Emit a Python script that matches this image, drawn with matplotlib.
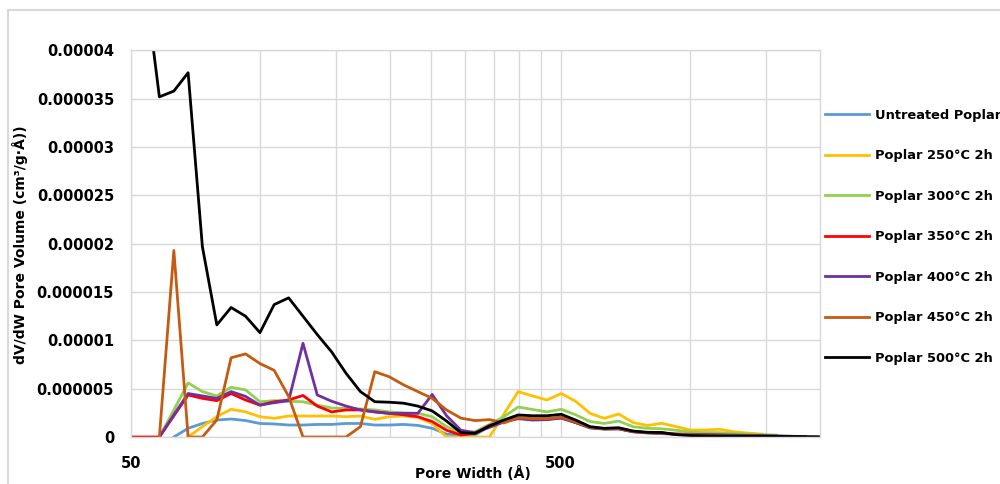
import numpy as np
import matplotlib
matplotlib.use("Agg")
import matplotlib.pyplot as plt
from matplotlib.ticker import FixedLocator, NullFormatter
from matplotlib.lines import Line2D

# pore widths (Å)
width = [50.0, 54.0, 58.3, 63.0, 68.0, 73.4, 79.3, 85.6, 92.5, 99.9,
         107.8, 116.5, 125.8, 135.8, 146.7, 158.4, 171.1, 184.8, 199.5, 215.5,
         232.7, 251.3, 271.4, 293.1, 316.2, 341.5, 368.8, 398.3, 430.1, 464.5,
         501.6, 541.7, 585.0, 631.7, 682.2, 736.7, 795.6, 859.2, 927.8, 1001.9,
         1082.0, 1168.4, 1261.8, 1362.6, 1471.5, 1589.1, 1716.1, 1853.2, 2000.0]

nan = np.nan
# dV/dW in units of 1e-6 cm3/(g·Å)
untreated = [nan, nan, nan, 0, 0.9, 1.4, 1.76, 1.86, 1.7, 1.4,
             1.35, 1.24, 1.24, 1.3, 1.3, 1.4, 1.4, 1.24, 1.24, 1.3,
             1.2, 0.9, 0.3, 0.2, 0.2, 1.1, 1.6, 1.95, 1.85, 1.85,
             2.0, 1.5, 0.95, 0.8, 0.85, 0.55, 0.4, 0.35, 0.25, 0.2,
             0.15, 0.15, 0.1, 0.1, 0.08, 0.06, 0.05, 0.03, nan]
p250 = [nan, nan, nan, nan, 0, 1.07, 2.1, 2.87, 2.6, 2.1,
        1.93, 2.17, 2.17, 2.17, 2.17, 2.1, 2.17, 1.83, 2.1, 2.17,
        2.03, 1.4, 0, 0, 0, 0, 2.35, 4.7, 4.25, 3.83,
        4.5, 3.7, 2.45, 1.93, 2.38, 1.5, 1.19, 1.42, 1.07, 0.72,
        0.72, 0.8, 0.55, 0.4, 0.3, nan, nan, nan, nan]
p300 = [nan, nan, 0, 2.8, 5.6, 4.7, 4.25, 5.15, 4.87, 3.65,
        3.76, 3.7, 3.65, 3.3, 3.0, 2.95, 2.9, 2.8, 2.6, 2.5,
        2.45, 2.1, 1.07, 0.4, 0.55, 1.3, 2.1, 3.1, 2.85, 2.6,
        2.87, 2.3, 1.6, 1.4, 1.65, 1.07, 0.9, 0.85, 0.7, 0.5,
        0.45, 0.45, 0.35, 0.3, 0.25, 0.2, nan, nan, nan]
p350 = [0, 0, 0, 2.2, 4.35, 4.0, 3.76, 4.5, 3.83, 3.3,
        3.65, 3.83, 4.3, 3.2, 2.6, 2.8, 2.8, 2.6, 2.45, 2.3,
        2.1, 1.6, 0.7, 0.2, 0.4, 1.2, 1.6, 1.95, 1.85, 1.85,
        2.0, 1.5, 1.0, 0.85, 0.85, 0.55, 0.45, 0.4, 0.3, 0.25,
        0.2, 0.2, 0.15, 0.12, 0.1, 0.08, 0.05, nan, nan]
p400 = [nan, nan, 0, 2.3, 4.5, 4.25, 4.0, 4.7, 4.2, 3.3,
        3.55, 3.76, 9.7, 4.35, 3.7, 3.2, 2.8, 2.6, 2.45, 2.45,
        2.45, 4.4, 2.2, 0.7, 0.45, 1.0, 1.55, 1.9, 1.75, 1.8,
        1.95, 1.5, 0.95, 0.85, 0.85, 0.55, 0.45, 0.4, 0.3, 0.28,
        0.25, 0.22, 0.2, 0.18, 0.15, 0.12, 0.08, 0.04, nan]
p450 = [nan, nan, 0, 19.3, 0, 0, 1.76, 8.2, 8.6, 7.6,
        6.9, 4.2, 0, 0, 0, 0, 1.07, 6.76, 6.24, 5.4,
        4.7, 4.0, 2.8, 1.95, 1.7, 1.8, 1.45, 2.0, 1.9, 1.9,
        2.05, 1.55, 1.0, 0.85, 0.9, 0.58, 0.45, 0.42, 0.3, 0.22,
        0.18, 0.15, 0.12, 0.1, 0.08, 0.06, nan, nan, nan]
p500 = [50, 47, 35.2, 35.8, 37.7, 19.7, 11.6, 13.4, 12.5, 10.8,
        13.7, 14.4, 12.5, 10.6, 8.8, 6.6, 4.7, 3.65, 3.6, 3.5,
        3.2, 2.7, 1.65, 0.45, 0.38, 1.14, 1.76, 2.28, 2.2, 2.2,
        2.35, 1.76, 1.07, 0.9, 0.96, 0.62, 0.49, 0.47, 0.25, 0.15,
        0.12, 0.1, 0.1, 0.08, 0.08, 0.06, 0.05, 0.04, 0.03]

labels = ["Untreated Poplar", "Poplar 250°C 2h", "Poplar 300°C 2h",
          "Poplar 350°C 2h", "Poplar 400°C 2h", "Poplar 450°C 2h",
          "Poplar 500°C 2h"]
colors = ["#5B9BD5", "#FFC000", "#92D050", "#FF0000", "#7030A0",
          "#C55A11", "#000000"]
series = [untreated, p250, p300, p350, p400, p450, p500]

yticks = [0, 0.000005, 0.00001, 0.000015, 0.00002, 0.000025, 0.00003,
          0.000035, 0.00004]
ytick_labels = ["0", "0.000005", "0.00001", "0.000015", "0.00002",
                "0.000025", "0.00003", "0.000035", "0.00004"]
xgrid = [100, 150, 200, 250, 300, 350, 400, 450, 500, 1000, 1500]

plt.rcParams["font.family"] = ["DejaVu Sans"]
plt.rcParams["font.weight"] = "bold"

fig = plt.figure(figsize=(10, 4.84), dpi=100)
ax = fig.add_axes([0.1307, 0.0971, 0.6888, 0.7986])

for vals, lab, col in zip(series, labels, colors):
    ax.plot(width, np.array(vals, dtype=float) * 1e-6, color=col, lw=2.0,
            label=lab, solid_joinstyle="round")

ax.set_xscale("log")
ax.set_xlim(50, 2000)
ax.set_ylim(0, 0.00004)
ax.set_xticks([50, 500])
ax.set_xticklabels(["50", "500"])
ax.xaxis.set_minor_locator(FixedLocator(xgrid))
ax.xaxis.set_minor_formatter(NullFormatter())
ax.set_yticks(yticks)
ax.set_yticklabels(ytick_labels)
ax.tick_params(axis="both", which="both", length=0)
ax.tick_params(axis="y", labelsize=10.5, pad=12)
ax.tick_params(axis="x", labelsize=10.5, pad=14)
ax.grid(True, which="both", color="#d9d9d9", lw=1.0)
ax.set_axisbelow(True)
for s in ax.spines.values():
    s.set_color("#d9d9d9")
    s.set_linewidth(1.0)

fig.text(0.020, 1 - 245 / 484, "dV/dW Pore Volume (cm³/g·Å))", rotation=90,
         ha="center", va="center", fontsize=10, fontweight="bold")
fig.text(0.473, 1 - 474 / 484, "Pore Width (Å)", ha="center", va="center",
         fontsize=10, fontweight="bold")

fig.legend(loc="upper left", bbox_to_anchor=(0.825, 1 - 109 / 484),
           frameon=False, fontsize=9.4, handlelength=3.4, handletextpad=0.4,
           labelspacing=2.1, borderpad=0, borderaxespad=0)

# outer chart frame: left and top edges only
frame_top = 1 - 10 / 484
fig.add_artist(Line2D([0.008, 0.008], [0, frame_top], transform=fig.transFigure,
                      color="#d9d9d9", lw=1.5))
fig.add_artist(Line2D([0.008, 1.0], [frame_top, frame_top],
                      transform=fig.transFigure, color="#d9d9d9", lw=1.5))

fig.savefig("out.png", dpi=100)
